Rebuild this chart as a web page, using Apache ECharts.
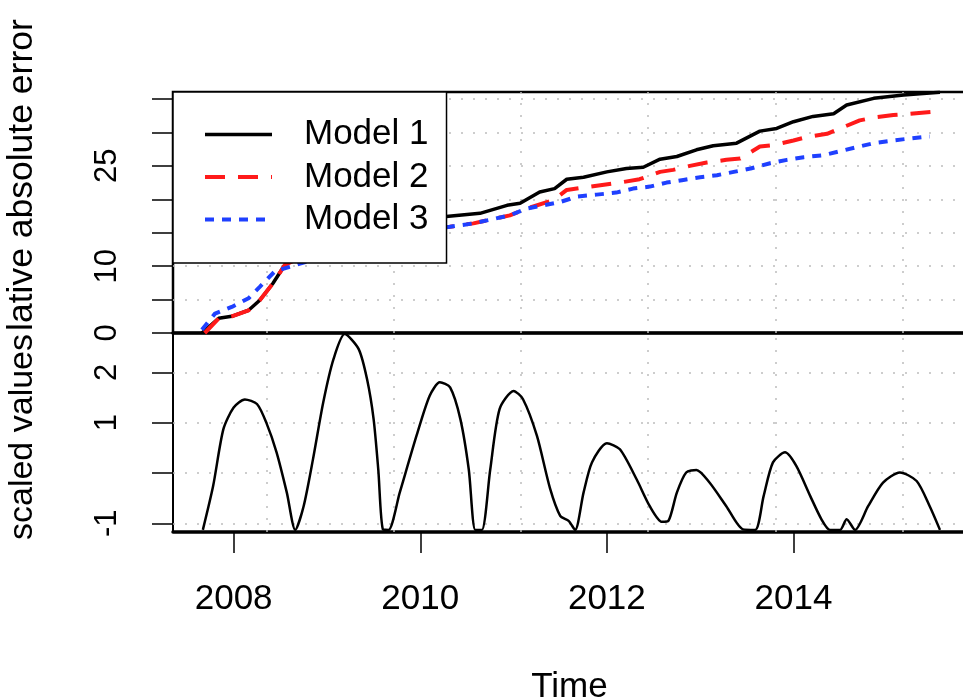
<!DOCTYPE html>
<html><head><meta charset="utf-8">
<script src="https://cdn.jsdelivr.net/npm/echarts@6/dist/echarts.min.js"></script>
<style>html,body{margin:0;padding:0;background:#fff}#c{width:963px;height:699px}</style>
</head><body><div id="c"></div><script>
// ---- data ----
const seriesNames = ['Model 1', 'Model 2', 'Model 3'];
const m1Years = [2007.66,2007.84,2007.98,2008.16,2008.28,2008.42,2008.55,2008.75,2009.0,2009.3,2009.6,2009.9,2010.25,2010.64,2010.93,2011.07,2011.28,2011.44,2011.57,2011.75,2012.0,2012.21,2012.39,2012.57,2012.75,2012.96,2013.14,2013.39,2013.64,2013.82,2014.0,2014.21,2014.43,2014.57,2014.86,2015.18,2015.57];
const m1Values = [0,2.2,2.5,3.4,4.9,7.4,10.2,12.0,13.5,14.8,15.8,16.6,17.4,17.9,19.1,19.4,21.1,21.6,23.0,23.3,24.1,24.6,24.8,26.0,26.4,27.4,28.0,28.4,30.2,30.6,31.6,32.4,32.8,34.1,35.1,35.6,36.0];
const m2Years = [2007.69,2007.84,2007.98,2008.16,2008.28,2008.42,2008.55,2008.8,2009.2,2009.7,2010.0,2010.32,2010.57,2010.96,2011.14,2011.43,2011.57,2011.82,2012.18,2012.35,2012.57,2012.71,2012.89,2013.07,2013.28,2013.43,2013.64,2013.78,2014.0,2014.14,2014.36,2014.5,2014.71,2014.89,2015.07,2015.25,2015.57];
const m2Values = [0,2.2,2.5,3.4,4.9,7.4,10.2,11.8,13.5,14.8,15.4,15.9,16.4,17.6,18.6,19.9,21.4,21.9,22.6,23.0,24.1,24.4,25.0,25.5,25.9,26.1,27.9,28.1,28.8,29.3,29.8,30.6,31.8,32.3,32.6,32.8,33.2];
const m3Years = [2007.66,2007.8,2007.98,2008.16,2008.28,2008.44,2008.6,2008.74,2009.0,2009.4,2009.8,2010.1,2010.32,2010.57,2010.96,2011.14,2011.28,2011.5,2011.68,2011.89,2012.1,2012.28,2012.46,2012.64,2012.82,2013.0,2013.18,2013.36,2013.54,2013.75,2013.93,2014.11,2014.32,2014.5,2014.68,2014.86,2015.07,2015.25,2015.46];
const m3Values = [0.5,2.9,3.9,5.2,6.9,9.2,9.9,10.5,11.6,13.0,14.4,15.4,15.9,16.4,17.6,18.6,19.0,19.6,20.4,20.7,21.0,21.6,21.9,22.5,22.9,23.3,23.6,24.1,24.6,25.4,25.9,26.3,26.6,27.2,27.8,28.4,28.8,29.1,29.4];
const scYears = [2007.67,2007.78,2007.89,2008.0,2008.12,2008.25,2008.35,2008.46,2008.57,2008.66,2008.75,2008.85,2008.96,2009.07,2009.19,2009.34,2009.43,2009.5,2009.55,2009.6,2009.66,2009.78,2009.96,2010.1,2010.21,2010.32,2010.43,2010.52,2010.59,2010.66,2010.75,2010.85,2011.0,2011.1,2011.25,2011.39,2011.5,2011.59,2011.66,2011.75,2011.84,2012.0,2012.14,2012.32,2012.46,2012.59,2012.66,2012.75,2012.85,2012.96,2013.1,2013.28,2013.46,2013.59,2013.68,2013.78,2013.91,2014.03,2014.18,2014.3,2014.39,2014.5,2014.57,2014.66,2014.8,2014.96,2015.14,2015.32,2015.46,2015.57];
const scValues = [-1.13,-0.26,0.87,1.30,1.46,1.37,1.00,0.41,-0.39,-1.13,-0.66,0.27,1.40,2.26,2.76,2.46,1.86,1.07,0.07,-1.12,-1.13,-0.39,0.74,1.53,1.80,1.70,1.07,0.07,-1.13,-1.13,0.07,1.27,1.63,1.47,0.74,-0.30,-0.85,-0.95,-1.13,-0.39,0.21,0.59,0.47,-0.13,-0.66,-0.97,-0.95,-0.39,0.01,0.06,-0.19,-0.66,-1.12,-1.13,-0.46,0.21,0.41,0.14,-0.46,-0.92,-1.13,-1.13,-0.92,-1.13,-0.66,-0.19,0.01,-0.16,-0.66,-1.13];
const xTickYears = [2008, 2010, 2012, 2014];
const topTicks = [0,5,10,15,20,25,30,35];
const topLabels = [0,10,25];
const botTicks = [-1,0,1,2];
const botLabels = [-1,1,2];
const gridYears = [2008.354, 2009.717, 2011.08, 2012.443, 2013.806, 2015.169];
const gridTop = [5,10,15,20,25,30,35];
const gridBot = [-1,0,1,2];

const pairs = (xs, ys) => xs.map((x, i) => [x, ys[i]]);
const XMIN = 2007.35, XMAX = 2015.849;
const FONT = 'Liberation Sans, Arial, Helvetica, sans-serif';
const dotted = {type: [2, 10], color: '#bdbdbd', width: 1.5};
const mkGrid = (xs, ys) => ({
  silent: true, symbol: ['none','none'], z: 1, animation: false,
  label: {show: false}, lineStyle: dotted, emphasis: {disabled: true},
  data: xs.map(v => ({xAxis: v})).concat(ys.map(v => ({yAxis: v})))
});
const COLORS = ['#000000', '#ff1a1a', '#1f40ff'];
const STYLES = [
  {color: COLORS[0], width: 3.5, type: 'solid'},
  {color: COLORS[1], width: 4, type: [20, 13]},
  {color: COLORS[2], width: 4, type: [9, 8]}
];

const chart = echarts.init(document.getElementById('c'), null, {renderer: 'canvas'});
chart.setOption({
  animation: false,
  backgroundColor: '#fff',
  textStyle: {fontFamily: FONT},
  grid: [
    {left: 173, top: 92, width: 793, height: 241, show: true, borderColor: '#000', borderWidth: 2.5, backgroundColor: 'transparent', containLabel: false, outerBoundsMode: 'none'},
    {left: 173, top: 333, width: 793, height: 199, show: true, borderColor: '#000', borderWidth: 2, backgroundColor: 'transparent', containLabel: false, outerBoundsMode: 'none'}
  ],
  xAxis: [
    {type: 'value', gridIndex: 0, min: XMIN, max: XMAX, position: 'bottom',
     axisLine: {show: true, onZero: false, lineStyle: {color: '#000', width: 3.5}},
     axisTick: {show: false}, axisLabel: {show: false}, splitLine: {show: false}},
    {type: 'value', gridIndex: 1, min: XMIN, max: XMAX, position: 'bottom',
     axisLine: {show: true, onZero: false, lineStyle: {color: '#000', width: 3.5}},
     axisTick: {show: true, length: 21, customValues: xTickYears, lineStyle: {color: '#000', width: 1.5}},
     axisLabel: {show: true, customValues: xTickYears, fontSize: 35, color: '#000', margin: 50, fontFamily: FONT,
                 formatter: v => String(Math.round(v))},
     splitLine: {show: false},
     name: 'Time', nameLocation: 'middle', nameGap: 138,
     nameTextStyle: {fontSize: 35, color: '#000', fontFamily: FONT}}
  ],
  yAxis: [
    {type: 'value', gridIndex: 0, min: 0, max: 36.05,
     axisLine: {show: true, onZero: false, lineStyle: {color: '#000', width: 2}},
     axisTick: {show: true, length: 21, customValues: topTicks, lineStyle: {color: '#000', width: 1.5}},
     axisLabel: {show: true, customValues: topLabels, rotate: 90, fontSize: 31, color: '#000', margin: 50, fontFamily: FONT,
                 formatter: v => String(v)},
     splitLine: {show: false}},
    {type: 'value', gridIndex: 1, min: -1.172, max: 2.78,
     axisLine: {show: true, onZero: false, lineStyle: {color: '#000', width: 2}},
     axisTick: {show: true, length: 21, customValues: botTicks, lineStyle: {color: '#000', width: 1.5}},
     axisLabel: {show: true, customValues: botLabels, rotate: 90, fontSize: 31, color: '#000', margin: 50, fontFamily: FONT,
                 formatter: v => String(v)},
     splitLine: {show: false}}
  ],
  legend: {
    show: true, orient: 'vertical', left: 173, top: 92,
    data: seriesNames.map((n, i) => ({name: n, lineStyle: STYLES[i], itemStyle: {opacity: 0}})),
    padding: [25, 18, 26, 30], itemGap: 7.5, itemWidth: 67, itemHeight: 4,
    itemStyle: {opacity: 0, borderWidth: 0},
    backgroundColor: '#fff', borderColor: '#000', borderWidth: 1.5, borderRadius: 0,
    textStyle: {fontSize: 35, color: '#000', fontFamily: FONT, padding: [0, 0, 0, 27]},
    selectedMode: false, z: 10
  },
  graphic: [
    {type: 'text', x: 40, y: 334, rotation: Math.PI / 2, z: 100,
     style: {text: 'scaled values', fontSize: 34, fontFamily: FONT, fill: '#000', align: 'right', verticalAlign: 'bottom'}},
    {type: 'text', x: 40, y: 331, rotation: Math.PI / 2, z: 100,
     style: {text: 'lative absolute error', fontSize: 35.5, fontFamily: FONT, fill: '#000', align: 'left', verticalAlign: 'bottom'}}
  ],
  series: [
    {name: seriesNames[0], type: 'line', xAxisIndex: 0, yAxisIndex: 0, data: pairs(m1Years, m1Values),
     symbol: 'none', lineStyle: STYLES[0], itemStyle: {color: COLORS[0]}, z: 3,
     markLine: mkGrid(gridYears, gridTop)},
    {name: seriesNames[1], type: 'line', xAxisIndex: 0, yAxisIndex: 0, data: pairs(m2Years, m2Values),
     symbol: 'none', lineStyle: STYLES[1], itemStyle: {color: COLORS[1]}, z: 4},
    {name: seriesNames[2], type: 'line', xAxisIndex: 0, yAxisIndex: 0, data: pairs(m3Years, m3Values),
     symbol: 'none', lineStyle: STYLES[2], itemStyle: {color: COLORS[2]}, z: 5},
    {name: 'scaled', type: 'line', xAxisIndex: 1, yAxisIndex: 1, data: pairs(scYears, scValues),
     symbol: 'none', smooth: 0.25, lineStyle: {color: '#000', width: 2.5}, itemStyle: {color: '#000'}, z: 3,
     markLine: mkGrid(gridYears, gridBot)}
  ]
});
</script></body></html>
